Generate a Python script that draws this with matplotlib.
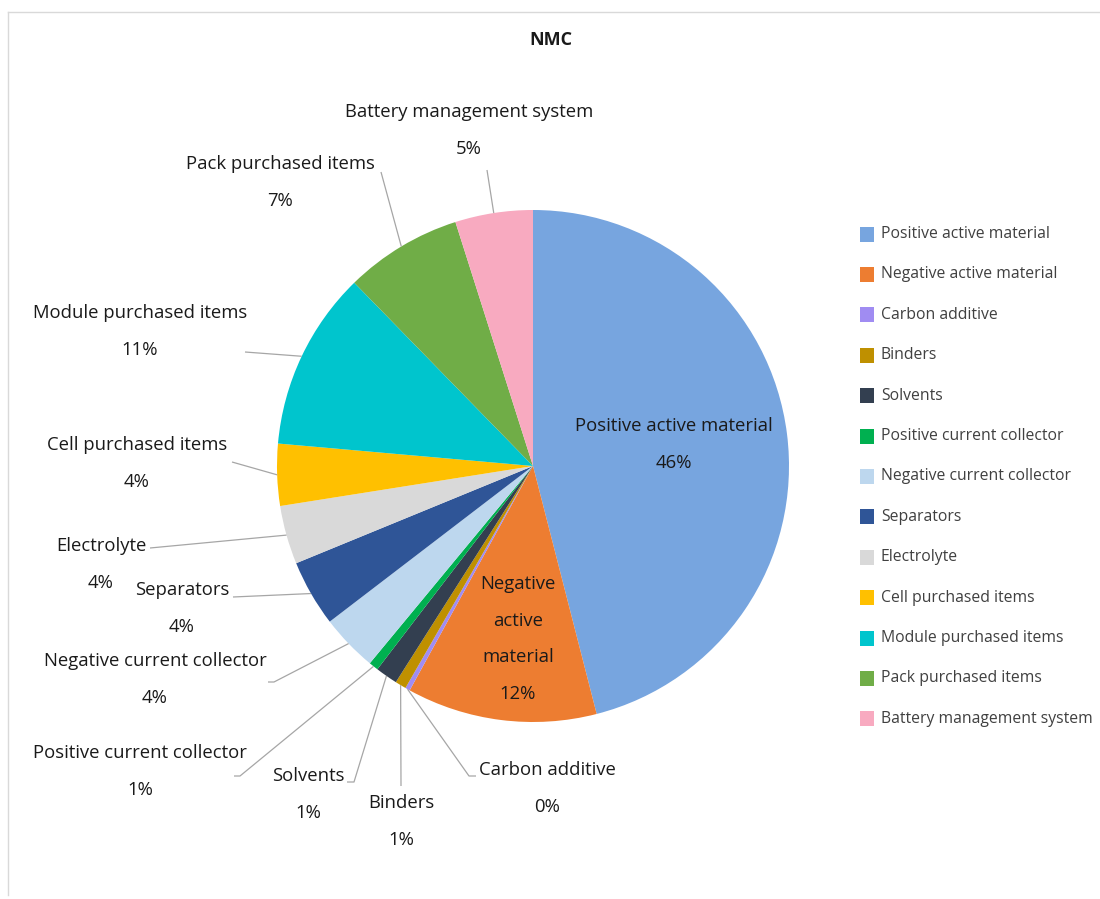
import matplotlib
matplotlib.use("Agg")
import matplotlib.pyplot as plt
from matplotlib.patches import Rectangle
import numpy as np

plt.rcParams['font.family'] = ['Open Sans', 'DejaVu Sans']

# Cost breakdown of an NMC battery pack (share of total, %)
categories = [
    "Positive active material", "Negative active material", "Carbon additive",
    "Binders", "Solvents", "Positive current collector", "Negative current collector",
    "Separators", "Electrolyte", "Cell purchased items", "Module purchased items",
    "Pack purchased items", "Battery management system",
]
shares = [46.0, 12.0, 0.3, 0.7, 1.4, 0.6, 3.6, 4.2, 3.7, 3.9, 11.3, 7.4, 4.9]
colors = [
    "#77A5DF", "#ED7D31", "#A08CF2", "#BF9000", "#333F50", "#00B050", "#BDD7EE",
    "#2F5597", "#D9D9D9", "#FFC000", "#00C5CD", "#70AD47", "#F8AAC0",
]
title = "NMC"

TEXT = "#1A1A1A"
LEAD = "#A6A6A6"
W, H = 1100, 899
FS = 13.3

fig = plt.figure(figsize=(W / 100, H / 100), dpi=100)
ax = fig.add_axes([0, 0, 1, 1])

cx, cy, R = 533, 466, 256
# y axis runs downward (pixel-like), so counterclock=True sweeps clockwise on screen
wedges, _ = ax.pie(shares, colors=colors, startangle=-90, counterclock=True,
                   center=(cx, cy), radius=R, wedgeprops=dict(linewidth=0),
                   frame=True)
ax.set_xlim(0, W)
ax.set_ylim(H, 0)
ax.set_aspect('equal')
ax.axis('off')

# chart frame
ax.plot([8, W], [12, 12], color="#D9D9D9", lw=1)
ax.plot([8, 8], [12, 895], color="#D9D9D9", lw=1)

ax.text(551, 40, title, ha='center', va='center', fontsize=13, fontweight='bold',
        color=TEXT)


def edge_point(w):
    mid = np.deg2rad((w.theta1 + w.theta2) / 2)
    return cx + R * np.cos(mid), cy + R * np.sin(mid)


def pct(v):
    return f"{int(round(v))}%"


# outside labels: (index, name position, leader start points)
outside = {
    12: ((469, 112), [(487, 170)]),
    11: ((280, 164), [(381, 172)]),
    10: ((140, 313), [(245, 352)]),
    9: ((137, 445), [(232, 462)]),
    8: ((101, 546), [(150, 548)]),
    7: ((182, 590), [(233, 597)]),
    6: ((155, 661), [(268, 682), (274, 682)]),
    5: ((140, 753), [(234, 776), (240, 776)]),
    4: ((308, 776), [(347, 782), (354, 782)]),
    3: ((401, 803), [(401, 786)]),
    2: ((547, 770), [(476, 776), (469, 776)]),
}

for i, ((tx, ty), pts) in outside.items():
    ax.text(tx, ty, categories[i], ha='center', va='center', fontsize=FS,
            color=TEXT)
    ax.text(tx, ty + 37, pct(shares[i]), ha='center', va='center', fontsize=FS,
            color=TEXT)
    ex, ey = edge_point(wedges[i])
    xs = [p[0] for p in pts] + [ex]
    ys = [p[1] for p in pts] + [ey]
    ax.plot(xs, ys, color=LEAD, lw=0.9, solid_capstyle='butt')

# inside labels
ax.text(674, 426, categories[0], ha='center', va='center', fontsize=FS,
        color=TEXT)
ax.text(674, 463, pct(shares[0]), ha='center', va='center', fontsize=FS,
        color=TEXT)
for k, line in enumerate(["Negative", "active", "material", pct(shares[1])]):
    ax.text(518, 584 + k * 36.7, line, ha='center', va='center', fontsize=FS,
            color=TEXT)

# legend
ly0, dy = 234, 40.4
for i, (name, c) in enumerate(zip(categories, colors)):
    y = ly0 + i * dy
    ax.add_patch(Rectangle((860, y - 7.5), 14, 15, facecolor=c, edgecolor='none'))
    ax.text(881, y, name, ha='left', va='center', fontsize=11.3, color="#404040")

fig.savefig("out.png", dpi=100, facecolor='white')
